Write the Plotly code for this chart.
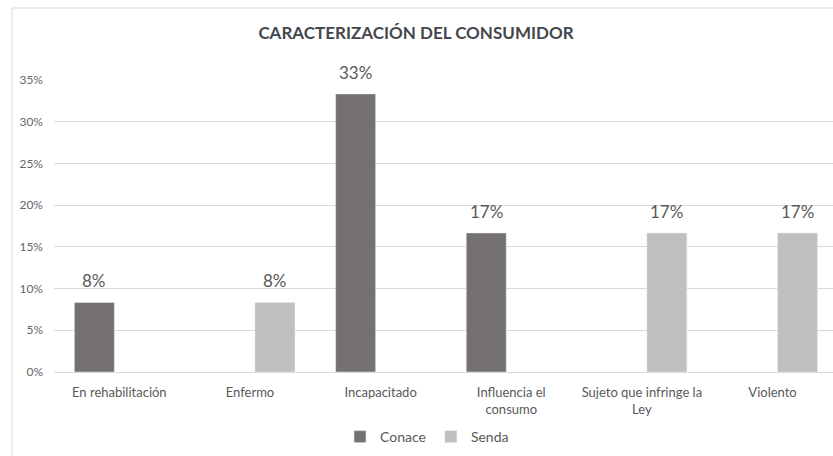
import plotly.graph_objects as go

# Consumer characterization shares by institution
categories = [
    "En rehabilitación",
    "Enfermo",
    "Incapacitado",
    "Influencia el<br>consumo",
    "Sujeto que infringe la<br>Ley",
    "Violento",
]
conace = [1 / 12, None, 1 / 3, 1 / 6, None, None]
senda = [None, 1 / 12, None, None, 1 / 6, 1 / 6]
y_ticks = [0, 0.05, 0.10, 0.15, 0.20, 0.25, 0.30, 0.35]

DARK = "#767171"
LIGHT = "#BFBFBF"
TEXT = "#595959"
FONT = "Lato"

W, H = 833, 456
LEFT, RIGHT, TOP, BOTTOM = 54, 0, 80, 84
plot_w = W - LEFT - RIGHT
plot_h = H - TOP - BOTTOM

fig = go.Figure()
fig.add_trace(go.Bar(name="Conace", x=categories, y=conace, marker_color=DARK))
fig.add_trace(go.Bar(name="Senda", x=categories, y=senda, marker_color=LIGHT))

# Value labels above each bar
for vals, shift in ((conace, -25), (senda, 25)):
    for cat, v in zip(categories, vals):
        if v is None:
            continue
        fig.add_annotation(
            x=cat, y=v, xref="x", yref="y",
            text=f"{v:.0%}", showarrow=False,
            xshift=shift, yshift=9, yanchor="bottom",
            font=dict(family=FONT, size=17, color=TEXT),
        )

# Chart-area frame (left and top edges)
def px_x(p):
    return (p - LEFT) / plot_w

def px_y(p):
    return (H - BOTTOM - p) / plot_h

fig.add_shape(type="line", xref="paper", yref="paper",
              x0=px_x(12), x1=px_x(12), y0=px_y(456), y1=px_y(8),
              line=dict(color="#D9D9D9", width=1))
fig.add_shape(type="line", xref="paper", yref="paper",
              x0=px_x(12), x1=1.0, y0=px_y(8), y1=px_y(8),
              line=dict(color="#D9D9D9", width=1))

fig.update_layout(
    width=W, height=H,
    margin=dict(l=LEFT, r=RIGHT, t=TOP, b=BOTTOM, pad=0),
    paper_bgcolor="white", plot_bgcolor="white",
    barmode="group", bargap=0.235, bargroupgap=0.2,
    font=dict(family=FONT, color=TEXT),
    title=dict(
        text="<b>CARACTERIZACIÓN DEL CONSUMIDOR</b>",
        x=416 / W, xref="container", xanchor="center",
        y=1 - 33 / H, yref="container", yanchor="middle",
        font=dict(family=FONT, size=17, color="#44474c"),
    ),
    showlegend=True,
    legend=dict(
        orientation="h", x=px_x(427), xanchor="center",
        y=px_y(437), yanchor="middle",
        font=dict(family=FONT, size=14, color=TEXT),
        itemwidth=30, traceorder="normal",
    ),
    xaxis=dict(
        type="category", range=[-0.5, (W - 119) / 130.7],
        showgrid=False, zeroline=False, showline=False,
        ticks="", tickfont=dict(family=FONT, size=13, color=TEXT),
        ticklabelstandoff=11,
    ),
    yaxis=dict(
        range=[0, 0.35], tickvals=y_ticks, tickformat=".0%",
        showgrid=True, gridcolor="#D9D9D9", gridwidth=1,
        zeroline=True, zerolinecolor="#D9D9D9", zerolinewidth=1,
        showline=False, ticks="",
        tickfont=dict(family=FONT, size=12, color="#666666"),
        ticklabelstandoff=10,
    ),
)

fig.write_html("out.html")
